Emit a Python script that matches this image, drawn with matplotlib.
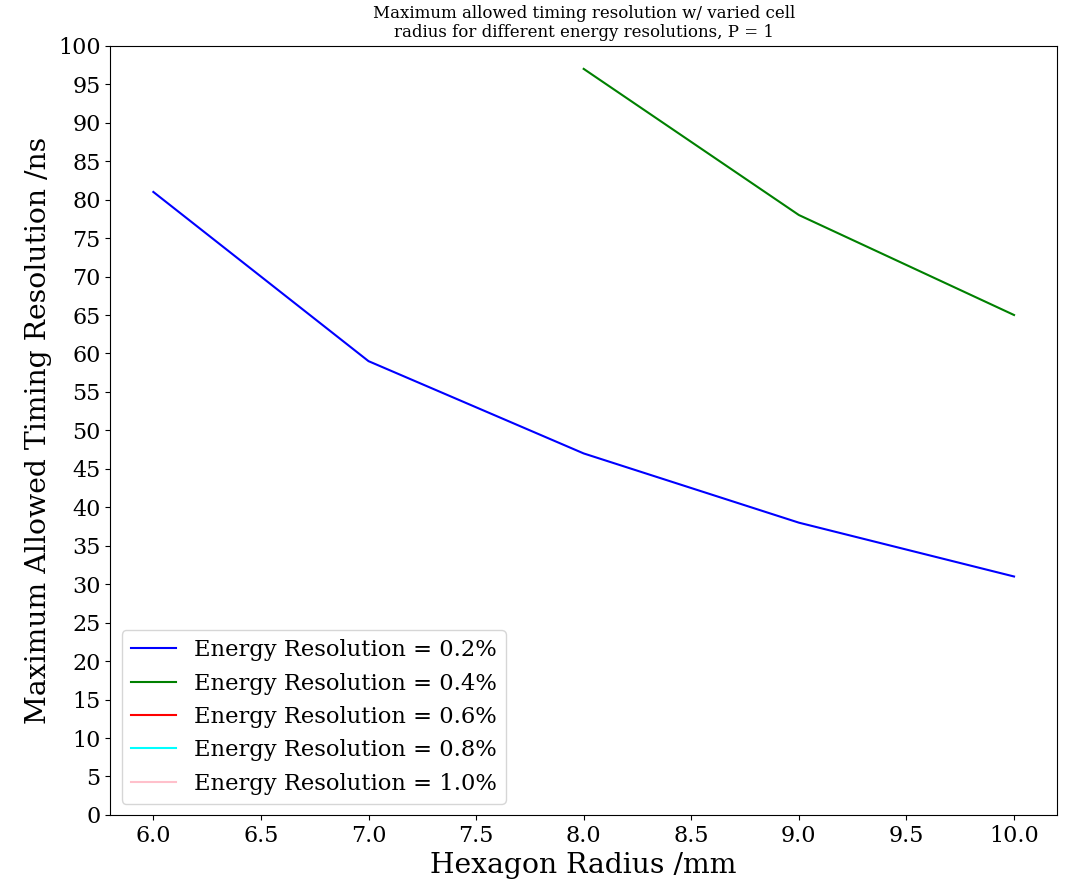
import numpy as np
import matplotlib
matplotlib.use('Agg')
import matplotlib.pyplot as plt

plt.rcParams['font.family'] = 'DejaVu Serif'

radius = [6.0, 7.0, 8.0, 9.0, 10.0]
res_02 = [81, 59, 47, 38, 31]
res_04 = [np.nan, np.nan, 97, 78, 65]
res_06 = [np.nan] * 5
res_08 = [np.nan] * 5
res_10 = [np.nan] * 5

labels = ['Energy Resolution = 0.2%', 'Energy Resolution = 0.4%',
          'Energy Resolution = 0.6%', 'Energy Resolution = 0.8%',
          'Energy Resolution = 1.0%']
colours = ['blue', 'green', 'red', 'cyan', 'pink']

fig, ax = plt.subplots(figsize=(10.71, 8.81), dpi=100)
for ys, lab, c in zip([res_02, res_04, res_06, res_08, res_10], labels, colours):
    ax.plot(radius, ys, color=c, label=lab, linewidth=1.5)

ax.set_ylim(0, 100)
ax.set_yticks(np.arange(0, 101, 5))
ax.set_xticks(np.arange(6.0, 10.01, 0.5))
ax.tick_params(labelsize=16)
ax.set_xlabel('Hexagon Radius /mm', fontsize=20.3)
ax.set_ylabel('Maximum Allowed Timing Resolution /ns', fontsize=20.3)
ax.set_title('Maximum allowed timing resolution w/ varied cell\n'
             'radius for different energy resolutions, P = 1', fontsize=12)
ax.legend(loc='lower left', fontsize=16.3)
fig.subplots_adjust(left=0.103, right=0.987, top=0.948, bottom=0.075)
fig.savefig('out.png')
